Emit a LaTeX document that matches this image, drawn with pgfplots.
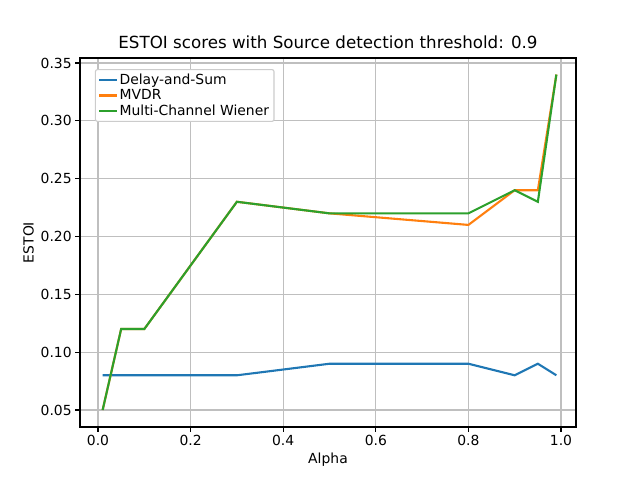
\documentclass[border=0pt]{standalone}
\usepackage{pgfplots}
\pgfplotsset{compat=1.18}
\usepackage{fontspec}
\setmainfont{DejaVu Sans}
\definecolor{c1}{HTML}{1F77B4}
\definecolor{c2}{HTML}{FF7F0E}
\definecolor{c3}{HTML}{2CA02C}
\begin{document}
\begin{tikzpicture}
\path[use as bounding box] (-80pt,-53pt) rectangle (560pt,427pt);
\begin{axis}[
  at={(0,0)}, anchor=south west, scale only axis,
  width=496pt, height=369pt,
  xmin=-0.0389, xmax=1.0324, ymin=0.0353, ymax=0.3543,
  xtick={0,0.2,0.4,0.6,0.8,1.0},
  xticklabels={0.0,0.2,0.4,0.6,0.8,1.0},
  ytick={0.05,0.10,0.15,0.20,0.25,0.30,0.35},
  yticklabels={0.05,0.10,0.15,0.20,0.25,0.30,0.35},
  xtick pos=bottom, ytick pos=left,
  grid=major, grid style={gray!50, line width=1.1pt},
  tick align=outside, tick style={black, line width=1.1pt}, major tick length=4.8pt,
  axis line style={line width=1.1pt},
  ticklabel style={font=\fontsize{13.9}{16}\selectfont},
  xlabel={Alpha}, ylabel={ESTOI},
  label style={font=\fontsize{13.9}{16}\selectfont},
  title={ESTOI scores with Source detection threshold: 0.9},
  title style={font=\fontsize{16.7}{19}\selectfont},
  legend pos=north west,
  legend style={font=\fontsize{13.9}{16}\selectfont, draw=gray!40, rounded corners=2pt, line width=1.1pt},
  legend cell align=left,
]
\addplot[c1, line width=2.1pt, mark=none] coordinates {(0.01,0.08)(0.05,0.08)(0.1,0.08)(0.3,0.08)(0.5,0.09)(0.8,0.09)(0.9,0.08)(0.95,0.09)(0.99,0.08)};
\addlegendentry{Delay-and-Sum}
\addplot[c2, line width=2.1pt, mark=none] coordinates {(0.01,0.05)(0.05,0.12)(0.1,0.12)(0.3,0.23)(0.5,0.22)(0.8,0.21)(0.9,0.24)(0.95,0.24)(0.99,0.34)};
\addlegendentry{MVDR}
\addplot[c3, line width=2.1pt, mark=none] coordinates {(0.01,0.05)(0.05,0.12)(0.1,0.12)(0.3,0.23)(0.5,0.22)(0.8,0.22)(0.9,0.24)(0.95,0.23)(0.99,0.34)};
\addlegendentry{Multi-Channel Wiener}
\end{axis}
\end{tikzpicture}
\end{document}
